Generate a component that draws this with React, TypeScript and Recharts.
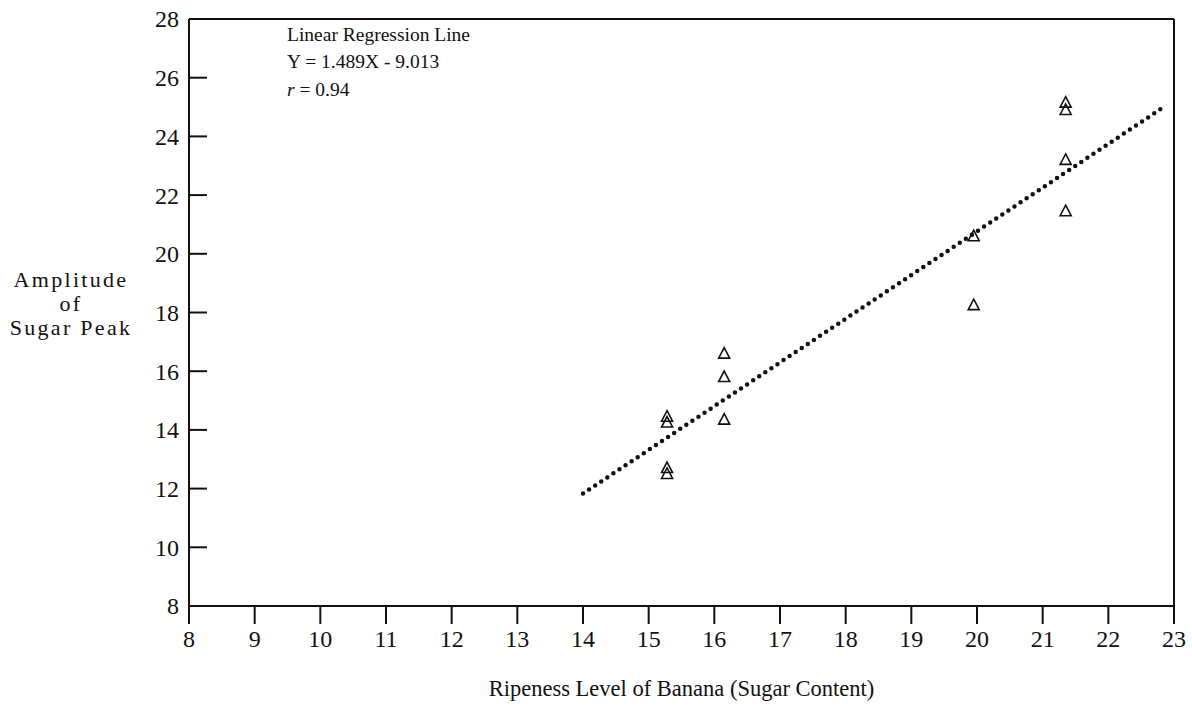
import { ReferenceLine, Scatter, ScatterChart, XAxis, YAxis } from 'recharts';

// Values.
const xTicks = [8, 9, 10, 11, 12, 13, 14, 15, 16, 17, 18, 19, 20, 21, 22, 23];
const yTicks = [8, 10, 12, 14, 16, 18, 20, 22, 24, 26, 28];

const sugarContent = [15.28, 15.28, 15.28, 15.28, 16.15, 16.15, 16.15, 19.95, 19.95, 21.35, 21.35, 21.35, 21.35];
const peakAmplitude = [14.45, 14.25, 12.7, 12.5, 16.6, 15.8, 14.35, 20.6, 18.25, 25.15, 24.9, 23.2, 21.45];

// end points of the dotted regression line
const fitX = [14, 22.85];
const fitY = [11.83, 25.01];

const points = sugarContent.map((x, i) => ({ x, y: peakAmplitude[i] }));
const fitLine = fitX.map((x, i) => ({ x, y: fitY[i] }));

const ink = '#111';
const serif = '"Liberation Serif", "Times New Roman", serif';

const Triangle = ({ cx, cy }: any) => (
  <path
    d={`M${cx},${cy - 6} L${cx + 5.5},${cy + 4.5} L${cx - 5.5},${cy + 4.5} Z`}
    fill="none"
    stroke={ink}
    strokeWidth={1.6}
  />
);

// left axis: ticks point into the plot, labels sit outside
const YTick = ({ x, y, payload }: any) => (
  <g>
    <line x1={x + 10} x2={x + 28} y1={y} y2={y} stroke={ink} strokeWidth={2} />
    <text x={x} y={y} dy="0.35em" textAnchor="end" fill={ink} fontFamily={serif} fontSize={24}>
      {payload.value}
    </text>
  </g>
);

const YLabel = ({ viewBox }: any) => {
  const cx = viewBox.x + 71;
  return (
    <text textAnchor="middle" fill={ink} fontFamily={serif} fontSize={22} letterSpacing={2.3}>
      <tspan x={cx} y={287}>Amplitude</tspan>
      <tspan x={cx} y={311}>of</tspan>
      <tspan x={cx} y={335}>Sugar Peak</tspan>
    </text>
  );
};

const XLabel = ({ viewBox }: any) => (
  <text
    x={viewBox.x + viewBox.width / 2}
    y={viewBox.y + 90}
    textAnchor="middle"
    fill={ink}
    fontFamily={serif}
    fontSize={22.5}
  >
    Ripeness Level of Banana (Sugar Content)
  </text>
);

const Annotation = ({ viewBox }: any) => {
  const x = viewBox.x + 98;
  const y = viewBox.y;
  return (
    <text fill={ink} fontFamily={serif} fontSize={19.5}>
      <tspan x={x} y={y + 22}>Linear Regression Line</tspan>
      <tspan x={x} y={y + 49}>Y = 1.489X - 9.013</tspan>
      <tspan x={x} y={y + 77}>
        <tspan fontStyle="italic">r</tspan> = 0.94
      </tspan>
    </text>
  );
};

export default function App() {
  return (
    <div style={{ position: 'absolute', left: 0, top: 0, width: 1192, height: 717, background: '#fff' }}>
      <ScatterChart width={1192} height={717} margin={{ top: 19, right: 18, left: 0, bottom: 0 }}>
        <XAxis
          type="number"
          dataKey="x"
          domain={[8, 23]}
          ticks={xTicks}
          interval={0}
          height={111}
          axisLine={{ stroke: ink, strokeWidth: 2 }}
          tickLine={{ stroke: ink, strokeWidth: 2 }}
          tickSize={18}
          tickMargin={6}
          tick={{ fill: ink, fontFamily: serif, fontSize: 24 }}
          label={{ content: XLabel }}
        />
        <YAxis
          type="number"
          dataKey="y"
          domain={[8, 28]}
          ticks={yTicks}
          interval={0}
          width={189}
          axisLine={{ stroke: ink, strokeWidth: 2 }}
          tickLine={false}
          tickSize={0}
          tickMargin={10}
          tick={YTick}
          label={{ content: YLabel }}
        />
        <ReferenceLine y={28} stroke={ink} strokeWidth={2} label={{ content: Annotation }} />
        <ReferenceLine x={23} stroke={ink} strokeWidth={2} />
        <Scatter
          data={fitLine}
          line={{ stroke: ink, strokeWidth: 4.5, strokeDasharray: '0 7.3', strokeLinecap: 'round' }}
          shape={() => <g />}
          isAnimationActive={false}
        />
        <Scatter data={points} shape={Triangle} isAnimationActive={false} />
      </ScatterChart>
    </div>
  );
}
